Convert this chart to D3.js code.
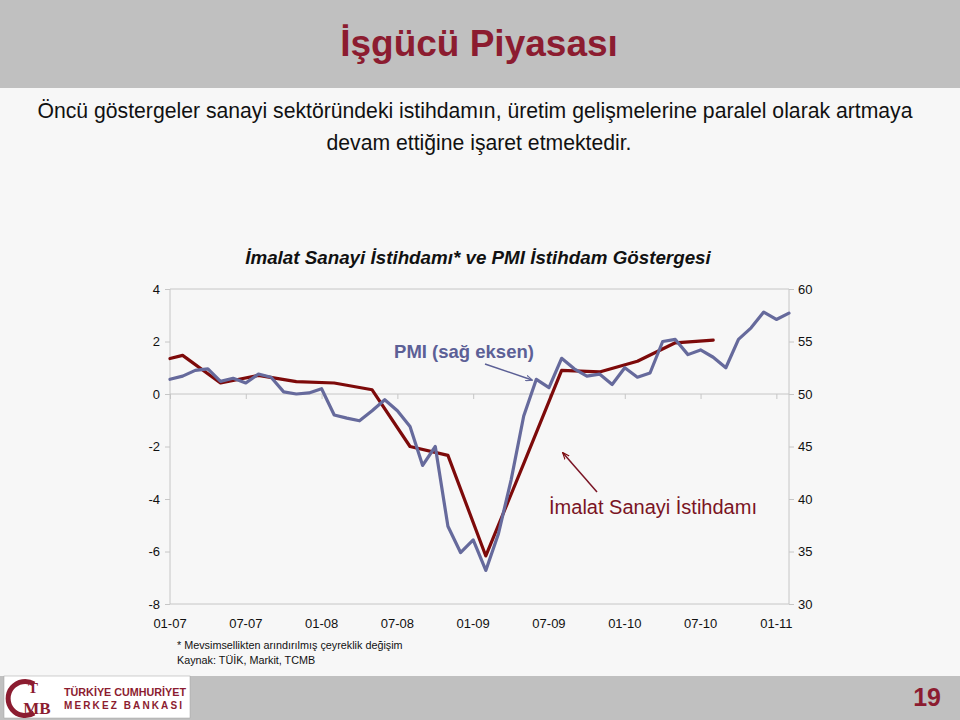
<!DOCTYPE html>
<html>
<head>
<meta charset="utf-8">
<script src="https://cdn.jsdelivr.net/npm/d3@7"></script>
<style>
  html, body { margin: 0; padding: 0; background: #f7f7f7; }
  svg { display: block; font-family: "Liberation Sans", Arial, sans-serif; }
</style>
</head>
<body>
<svg id="chart" width="960" height="720"></svg>
<script>
// ---- Data ----
const months = [
  "2007-01","2007-02","2007-03","2007-04","2007-05","2007-06","2007-07","2007-08","2007-09","2007-10","2007-11","2007-12",
  "2008-01","2008-02","2008-03","2008-04","2008-05","2008-06","2008-07","2008-08","2008-09","2008-10","2008-11","2008-12",
  "2009-01","2009-02","2009-03","2009-04","2009-05","2009-06","2009-07","2009-08","2009-09","2009-10","2009-11","2009-12",
  "2010-01","2010-02","2010-03","2010-04","2010-05","2010-06","2010-07","2010-08","2010-09","2010-10","2010-11","2010-12",
  "2011-01","2011-02"
];
const pmiValues = [
  51.4, 51.7, 52.25, 52.4, 51.2, 51.5, 51.05, 51.9, 51.6, 50.2, 50.0, 50.1,
  50.5, 48.0, 47.7, 47.45, 48.4, 49.45, 48.4, 46.9, 43.2, 45.0, 37.4, 34.9,
  36.1, 33.2, 36.7, 41.8, 47.9, 51.4, 50.6, 53.4, 52.4, 51.7, 51.9, 50.9,
  52.5, 51.6, 52.0, 55.0, 55.2, 53.75, 54.2, 53.5, 52.5, 55.2, 56.3, 57.8,
  57.1, 57.7
];
const empMonths = [
  "2007-01","2007-02","2007-05","2007-08","2007-11","2008-02","2008-05","2008-08",
  "2008-11","2009-02","2009-05","2009-08","2009-11","2010-02","2010-05","2010-08"
];
const empValues = [
  1.35, 1.47, 0.42, 0.71, 0.47, 0.42, 0.16, -2.0,
  -2.34, -6.17, -2.65, 0.90, 0.84, 1.25, 1.95, 2.05
];
const xTickMonths = ["2007-01","2007-07","2008-01","2008-07","2009-01","2009-07","2010-01","2010-07","2011-01"];
const xTickLabels = ["01-07","07-07","01-08","07-08","01-09","07-09","01-10","07-10","01-11"];
const leftTicks = [-8, -6, -4, -2, 0, 2, 4];
const rightTicks = [30, 35, 40, 45, 50, 55, 60];

// ---- Layout ----
const svg = d3.select("#chart");
const W = 960, H = 720;
const x0 = 170, x1 = 789, yTop = 289, yBot = 604;

const x = d3.scalePoint().domain(months).range([x0, x1]);
const yL = d3.scaleLinear().domain([-8, 4]).range([yBot, yTop]);
const yR = d3.scaleLinear().domain([30, 60]).range([yBot, yTop]);

const darkRed = "#8c1c30";
const empColor = "#7d0a0a";
const pmiColor = "#666a9c";
const axisGray = "#c6c6c6";

// background
svg.append("rect").attr("width", W).attr("height", H).attr("fill", "#f7f7f7");

// header band
svg.append("rect").attr("x", 0).attr("y", 0).attr("width", W).attr("height", 88).attr("fill", "#c0c0c0");
svg.append("text").attr("x", 479).attr("y", 56).attr("text-anchor", "middle")
  .attr("font-size", 37).attr("font-weight", "bold").attr("fill", darkRed)
  .text("İşgücü Piyasası");

// subtitle
svg.append("text").attr("x", 475).attr("y", 118).attr("text-anchor", "middle")
  .attr("font-size", 21.2).attr("fill", "#111")
  .text("Öncü göstergeler sanayi sektöründeki istihdamın, üretim gelişmelerine paralel olarak artmaya");
svg.append("text").attr("x", 479).attr("y", 150).attr("text-anchor", "middle")
  .attr("font-size", 21.2).attr("fill", "#111")
  .text("devam ettiğine işaret etmektedir.");

// chart title
svg.append("text").attr("x", 478).attr("y", 264).attr("text-anchor", "middle")
  .attr("font-size", 18.8).attr("font-weight", "bold").attr("font-style", "italic").attr("fill", "#111")
  .text("İmalat Sanayi İstihdamı* ve PMI İstihdam Göstergesi");

// plot frame lines
const g = svg.append("g");
[4, 0, -8].forEach(v => {
  g.append("line").attr("x1", x0).attr("x2", x1).attr("y1", yL(v)).attr("y2", yL(v))
    .attr("stroke", axisGray).attr("stroke-width", 1);
});
g.append("line").attr("x1", x0).attr("x2", x0).attr("y1", yTop).attr("y2", yBot).attr("stroke", axisGray);
g.append("line").attr("x1", x1).attr("x2", x1).attr("y1", yTop).attr("y2", yBot).attr("stroke", axisGray);

// left axis
const leftAxis = d3.axisLeft(yL).tickValues(leftTicks).tickSize(5).tickPadding(5).tickFormat(d3.format("d"));
const la = svg.append("g").attr("transform", `translate(${x0},0)`).call(leftAxis);
la.select(".domain").remove();
la.selectAll("line").attr("stroke", axisGray);
la.selectAll("text").attr("font-size", 13).attr("fill", "#111").attr("font-family", "Liberation Sans, Arial, sans-serif")
  .text(d => d < 0 ? "-" + Math.abs(d) : d);

// right axis
const rightAxis = d3.axisRight(yR).tickValues(rightTicks).tickSize(5).tickPadding(4);
const ra = svg.append("g").attr("transform", `translate(${x1},0)`).call(rightAxis);
ra.select(".domain").remove();
ra.selectAll("line").attr("stroke", axisGray);
ra.selectAll("text").attr("font-size", 13).attr("fill", "#111").attr("font-family", "Liberation Sans, Arial, sans-serif");

// x-axis ticks on zero line, labels at bottom
const bottomTickAxis = d3.axisBottom(x).tickValues(xTickMonths).tickSize(5).tickFormat("");
const bt = svg.append("g").attr("transform", `translate(0,${yL(0)})`).call(bottomTickAxis);
bt.select(".domain").remove();
bt.selectAll("line").attr("stroke", axisGray);

svg.append("g").selectAll("text").data(xTickMonths).join("text")
  .attr("x", d => x(d)).attr("y", 628).attr("text-anchor", "middle")
  .attr("font-size", 13).attr("fill", "#111")
  .text((d, i) => xTickLabels[i]);

// lines
const empLine = d3.line().x((d, i) => x(empMonths[i])).y(d => yL(d));
svg.append("path").datum(empValues).attr("d", empLine)
  .attr("fill", "none").attr("stroke", empColor).attr("stroke-width", 3.2)
  .attr("stroke-linejoin", "round").attr("stroke-linecap", "round");

const pmiLine = d3.line().x((d, i) => x(months[i])).y(d => yR(d));
svg.append("path").datum(pmiValues).attr("d", pmiLine)
  .attr("fill", "none").attr("stroke", pmiColor).attr("stroke-width", 3.2)
  .attr("stroke-linejoin", "round").attr("stroke-linecap", "round");

// arrow markers
const defs = svg.append("defs");
function marker(id, color) {
  defs.append("marker").attr("id", id).attr("viewBox", "0 0 10 10").attr("refX", 9).attr("refY", 5)
    .attr("markerWidth", 7).attr("markerHeight", 7).attr("orient", "auto-start-reverse")
    .attr("markerUnits", "userSpaceOnUse")
    .append("path").attr("d", "M0,1 L10,5 L0,9").attr("fill", "none").attr("stroke", color).attr("stroke-width", 1.6);
}
marker("arrB", pmiColor);
marker("arrR", empColor);

// annotations
svg.append("text").attr("x", 464).attr("y", 358).attr("text-anchor", "middle")
  .attr("font-size", 18.5).attr("font-weight", "bold").attr("fill", "#5c6096")
  .text("PMI (sağ eksen)");
svg.append("line").attr("x1", 485).attr("y1", 364).attr("x2", 532).attr("y2", 380)
  .attr("stroke", "#5c6096").attr("stroke-width", 1.5).attr("marker-end", "url(#arrB)");

svg.append("text").attr("x", 653).attr("y", 514).attr("text-anchor", "middle")
  .attr("font-size", 20).attr("fill", "#7a1424")
  .text("İmalat Sanayi İstihdamı");
svg.append("line").attr("x1", 597).attr("y1", 492).attr("x2", 563).attr("y2", 453)
  .attr("stroke", "#7a1424").attr("stroke-width", 1.5).attr("marker-end", "url(#arrR)");

// footnotes
svg.append("text").attr("x", 177).attr("y", 649).attr("font-size", 10.8).attr("fill", "#111")
  .text("* Mevsimsellikten arındırılmış çeyreklik değişim");
svg.append("text").attr("x", 177).attr("y", 664).attr("font-size", 10.8).attr("fill", "#111")
  .text("Kaynak: TÜİK, Markit, TCMB");

// footer band
svg.append("rect").attr("x", 0).attr("y", 676).attr("width", W).attr("height", 44).attr("fill", "#c0c0c0");
svg.append("rect").attr("x", 4).attr("y", 676).attr("width", 186).attr("height", 42).attr("fill", "#ffffff")
  .attr("stroke", "#a0a0a0").attr("stroke-width", 0.5);
// logo emblem
const logo = svg.append("g");
logo.append("path").attr("d", "M 34 684 A 17 17 0 1 0 34 713")
  .attr("fill", "none").attr("stroke", darkRed).attr("stroke-width", 5);
logo.append("text").attr("x", 33).attr("y", 693).attr("text-anchor", "middle")
  .attr("font-size", 15).attr("font-family", "Liberation Serif, serif").attr("font-weight", "bold").attr("fill", darkRed).text("T");
logo.append("text").attr("x", 37).attr("y", 714).attr("text-anchor", "middle")
  .attr("font-size", 17).attr("font-family", "Liberation Serif, serif").attr("font-weight", "bold").attr("fill", darkRed).text("MB");
logo.append("text").attr("x", 64).attr("y", 696).attr("font-size", 11).attr("font-weight", "bold")
  .attr("font-family", "Liberation Sans Narrow, Liberation Sans, sans-serif").attr("fill", darkRed)
  .attr("textLength", 122).attr("lengthAdjust", "spacingAndGlyphs").text("TÜRKİYE CUMHURİYET");
logo.append("text").attr("x", 64).attr("y", 709).attr("font-size", 10).attr("font-weight", "bold")
  .attr("fill", darkRed).attr("textLength", 118).attr("lengthAdjust", "spacing").text("MERKEZ BANKASI");

svg.append("text").attr("x", 941).attr("y", 706).attr("text-anchor", "end")
  .attr("font-size", 25).attr("font-weight", "bold").attr("fill", darkRed).text("19");
</script>
</body>
</html>
